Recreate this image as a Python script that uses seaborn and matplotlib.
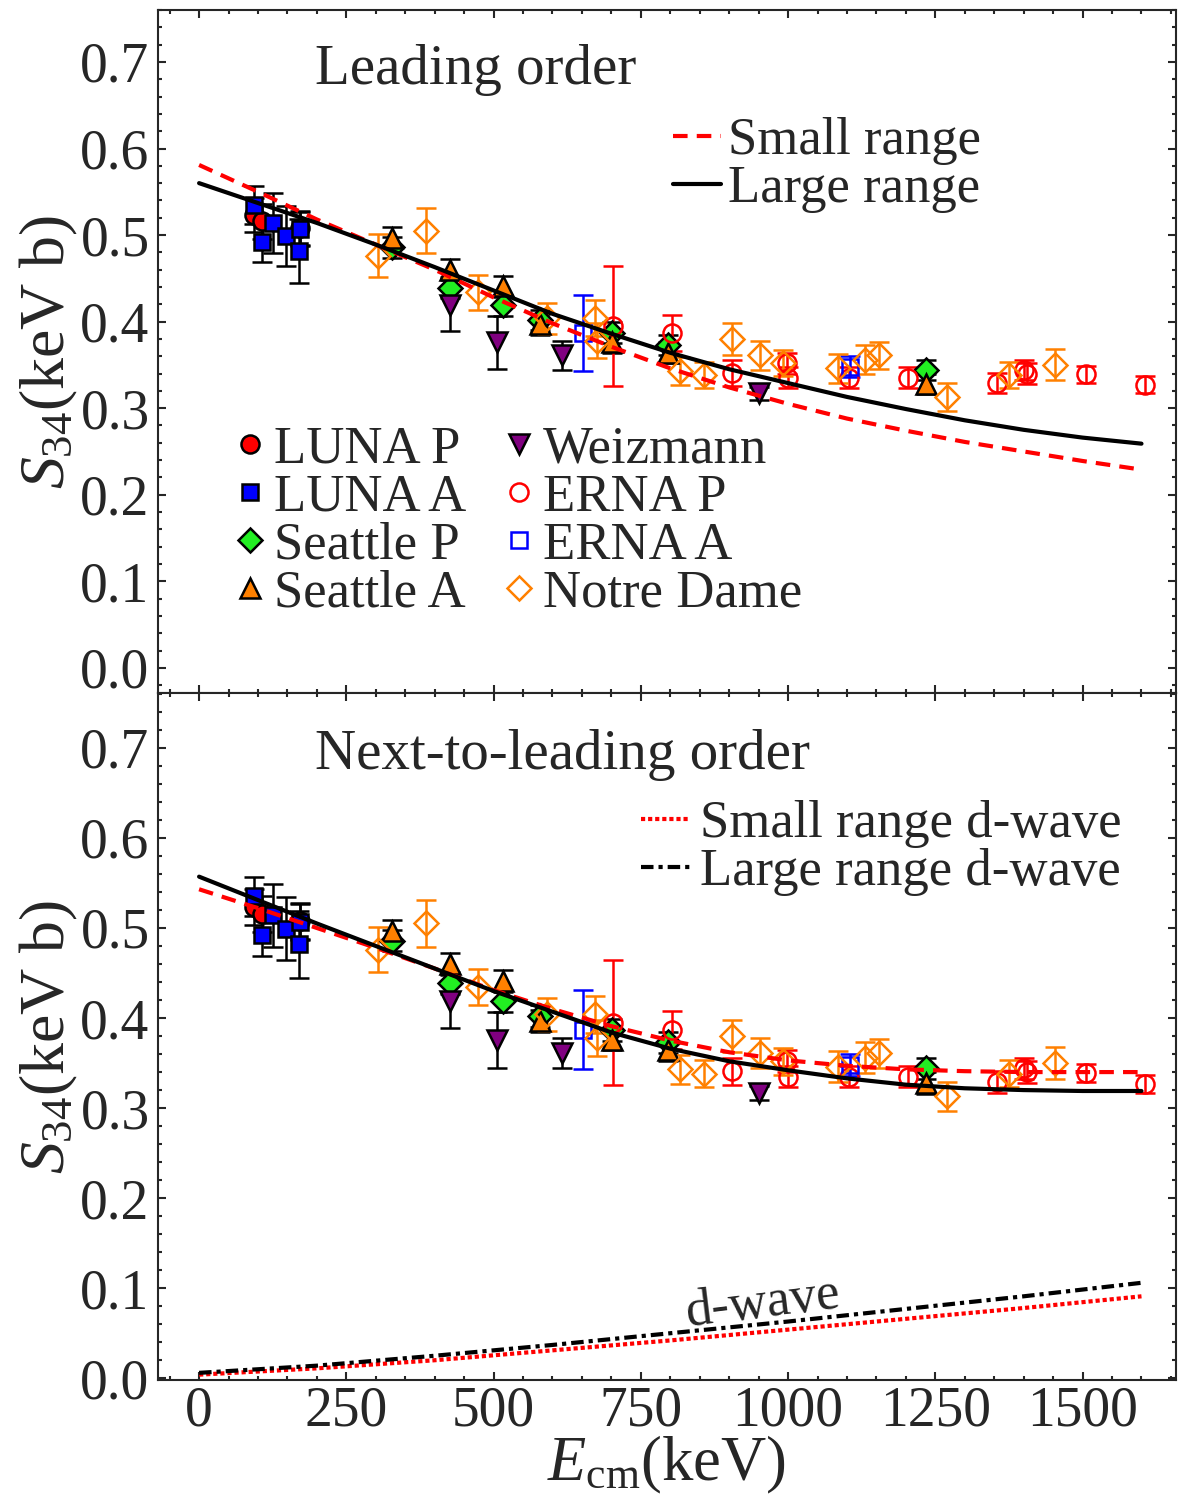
import matplotlib
matplotlib.use('Agg')
import matplotlib.pyplot as plt
import seaborn as sns
from matplotlib.lines import Line2D
from matplotlib.ticker import MultipleLocator, FormatStrFormatter

# theory curves, E in keV, S34 in keV b
e_curve = [0, 100, 200, 300, 400, 500, 600, 700, 800, 900, 1000, 1100, 1200, 1300, 1400, 1500, 1600]
lo_small = [0.581, 0.550, 0.518, 0.489, 0.460, 0.428, 0.398, 0.371, 0.346, 0.324, 0.305, 0.288, 0.274, 0.261, 0.250, 0.239, 0.229]
lo_large = [0.560, 0.537, 0.514, 0.489, 0.463, 0.436, 0.409, 0.386, 0.364, 0.345, 0.329, 0.313, 0.299, 0.286, 0.275, 0.266, 0.259]
nlo_small = [0.543, 0.522, 0.500, 0.478, 0.455, 0.431, 0.410, 0.391, 0.375, 0.362, 0.353, 0.347, 0.343, 0.341, 0.340, 0.340, 0.340]
nlo_large = [0.557, 0.531, 0.505, 0.480, 0.455, 0.430, 0.407, 0.384, 0.366, 0.352, 0.342, 0.333, 0.326, 0.322, 0.320, 0.319, 0.319]
e_dwave = [0, 200, 400, 600, 800, 1000, 1200, 1400, 1600]
dwave_small = [0.004, 0.011, 0.020, 0.031, 0.042, 0.054, 0.066, 0.078, 0.091]
dwave_large = [0.006, 0.014, 0.025, 0.037, 0.050, 0.063, 0.077, 0.091, 0.106]

# experimental data
luna_p_e = [94, 106, 171]
luna_p_s = [0.523, 0.516, 0.508]
luna_p_err = [0.020, 0.020, 0.020]

luna_a_e = [93, 106, 126, 148, 170, 171]
luna_a_s = [0.535, 0.492, 0.514, 0.499, 0.482, 0.507]
luna_a_err = [0.022, 0.023, 0.035, 0.035, 0.037, 0.020]

seattle_e = [328, 426, 516, 579, 701, 796, 1235]
seattle_p_s = [0.486, 0.439, 0.419, 0.402, 0.387, 0.373, 0.344]
seattle_a_s = [0.497, 0.460, 0.441, 0.397, 0.376, 0.364, 0.328]
seattle_err = [0.012, 0.012, 0.012, 0.012, 0.012, 0.012, 0.012]

weiz_e = [426, 506, 616, 951]
weiz_s = [0.419, 0.376, 0.361, 0.317]
weiz_err = [0.030, 0.031, 0.017, 0.008]

erna_p_e = [703, 803, 905, 998, 1000, 1104, 1204, 1355, 1400, 1406, 1506, 1606]
erna_p_s = [0.395, 0.387, 0.341, 0.352, 0.335, 0.335, 0.335, 0.329, 0.344, 0.340, 0.339, 0.327]
erna_p_err = [0.069, 0.021, 0.015, 0.012, 0.012, 0.012, 0.012, 0.012, 0.012, 0.012, 0.010, 0.010]

erna_a_e = [652, 1105]
erna_a_s = [0.387, 0.348]
erna_a_err = [0.044, 0.012]

nd_e = [304, 385, 474, 591, 672, 675, 817, 857, 905, 952, 992, 1085, 1131, 1155, 1270, 1375, 1453]
nd_s = [0.476, 0.505, 0.434, 0.404, 0.404, 0.378, 0.343, 0.338, 0.380, 0.361, 0.352, 0.346, 0.356, 0.361, 0.313, 0.338, 0.350]
nd_err = [0.025, 0.026, 0.020, 0.018, 0.021, 0.020, 0.016, 0.015, 0.018, 0.017, 0.015, 0.017, 0.017, 0.016, 0.016, 0.015, 0.018]

RED = '#ff0000'
BLUE = '#0000ff'
GREEN = '#22ee22'
ORANGE = '#ff8000'
PURPLE = '#800080'

sns.set_style('ticks')
plt.rcParams['font.family'] = ['Liberation Serif', 'DejaVu Serif']
plt.rcParams['mathtext.fontset'] = 'custom'
plt.rcParams['mathtext.rm'] = 'Liberation Serif'
plt.rcParams['mathtext.it'] = 'Liberation Serif:italic'
FS = 38        # legend text
TICK_FS = 40
TITLE_FS = 41
LABEL_FS = 45

fig = plt.figure(figsize=(11.78, 14.96), dpi=100)
ax1 = fig.add_axes([0.134, 0.5368, 0.864, 0.4565])
ax2 = fig.add_axes([0.134, 0.0775, 0.864, 0.4593])

# (name, e, s, err, marker, ms, face, edge, ecolor)
datasets = [
    ('LUNA P', luna_p_e, luna_p_s, luna_p_err, 'o', 13, RED, 'k', 'k'),
    ('LUNA A', luna_a_e, luna_a_s, luna_a_err, 's', 12, BLUE, 'k', 'k'),
    ('Seattle P', seattle_e, seattle_p_s, seattle_err, 'D', 12, GREEN, 'k', 'k'),
    ('Seattle A', seattle_e, seattle_a_s, seattle_err, '^', 15, ORANGE, 'k', 'k'),
    ('Weizmann', weiz_e, weiz_s, weiz_err, 'v', 15, PURPLE, 'k', 'k'),
    ('ERNA P', erna_p_e, erna_p_s, erna_p_err, 'o', 13, 'none', RED, RED),
    ('ERNA A', erna_a_e, erna_a_s, erna_a_err, 's', 12, 'none', BLUE, BLUE),
    ('Notre Dame', nd_e, nd_s, nd_err, 'D', 12, 'none', ORANGE, ORANGE),
]

DASH = (0, (3.5, 2.2))
DOT = (0, (1, 0.7))
DASHDOT = (0, (3, 1.2, 1, 1.2))


def draw_data(ax):
    for name, e, s, err, mk, ms, fc, ec, errc in datasets:
        ax.errorbar(e, s, yerr=err, fmt=mk, ms=ms, mfc=fc, mec=ec, mew=1.8,
                    ecolor=errc, elinewidth=1.8, capsize=7, capthick=1.8, zorder=3)


def style_axis(ax, ylim):
    ax.set_xlim(-70, 1658)
    ax.set_ylim(*ylim)
    ax.xaxis.set_major_locator(MultipleLocator(250))
    ax.xaxis.set_minor_locator(MultipleLocator(50))
    ax.yaxis.set_major_locator(MultipleLocator(0.1))
    ax.yaxis.set_minor_locator(MultipleLocator(0.02))
    ax.yaxis.set_major_formatter(FormatStrFormatter('%.1f'))
    ax.tick_params(which='both', direction='in', top=True, right=True, width=1.5, labelsize=TICK_FS)
    ax.tick_params(which='major', length=6)
    ax.tick_params(which='minor', length=3)
    ax.tick_params(axis='y', pad=6)
    ax.tick_params(axis='x', pad=4)
    for sp in ax.spines.values():
        sp.set_linewidth(1.5)
        sp.set_visible(True)
    ax.set_ylabel(r'$S_{34}$(keV b)', fontsize=46, labelpad=0)


# leading order
draw_data(ax1)
sns.lineplot(x=e_curve, y=lo_small, ax=ax1, color=RED, lw=3, linestyle=DASH, zorder=5)
sns.lineplot(x=e_curve, y=lo_large, ax=ax1, color='k', lw=3, zorder=5)
style_axis(ax1, (-0.029, 0.760))
ax1.tick_params(axis='x', labelbottom=False)
ax1.text(0.154, 0.912, 'Leading order', transform=ax1.transAxes, fontsize=TITLE_FS, va='center')

data_handles = [Line2D([], [], ls='none', marker=mk, ms=ms, mfc=fc, mec=ec, mew=1.8)
                for name, e, s, err, mk, ms, fc, ec, errc in datasets]
leg = ax1.legend(data_handles, [d[0] for d in datasets], loc='upper left', bbox_to_anchor=(0.052, 0.43),
                 ncol=2, frameon=False, fontsize=FS, handlelength=0.5, handletextpad=0.2,
                 columnspacing=0.75, labelspacing=0.0, borderpad=0)
ax1.add_artist(leg)
ax1.legend([Line2D([], [], color=RED, lw=3, ls=DASH), Line2D([], [], color='k', lw=3)],
           ['Small range', 'Large range'], loc='upper left', bbox_to_anchor=(0.48, 0.882),
           frameon=False, fontsize=FS, handlelength=0.92, handletextpad=0.13, labelspacing=0.0, borderpad=0)

# next-to-leading order
draw_data(ax2)
sns.lineplot(x=e_curve, y=nlo_small, ax=ax2, color=RED, lw=3, linestyle=DASH, zorder=5)
sns.lineplot(x=e_curve, y=nlo_large, ax=ax2, color='k', lw=3, zorder=5)
sns.lineplot(x=e_dwave, y=dwave_small, ax=ax2, color=RED, lw=3, linestyle=DOT, zorder=5)
sns.lineplot(x=e_dwave, y=dwave_large, ax=ax2, color='k', lw=3, linestyle=DASHDOT, zorder=5)
style_axis(ax2, (-0.002, 0.761))
ax2.set_xlabel(r'$E_{\rm cm}$(keV)', fontsize=LABEL_FS, labelpad=-3)
ax2.text(0.154, 0.910, 'Next-to-leading order', transform=ax2.transAxes, fontsize=TITLE_FS, va='center')
ax2.text(956, 0.083, 'd-wave', fontsize=FS, rotation=7, ha='center', va='center')
ax2.legend([Line2D([], [], color=RED, lw=3, ls=DOT), Line2D([], [], color='k', lw=3, ls=DASHDOT)],
           ['Small range d-wave', 'Large range d-wave'], loc='upper left', bbox_to_anchor=(0.449, 0.882),
           frameon=False, fontsize=FS, handlelength=0.92, handletextpad=0.2, labelspacing=0.0, borderpad=0)

fig.savefig('out.png', dpi=100)
